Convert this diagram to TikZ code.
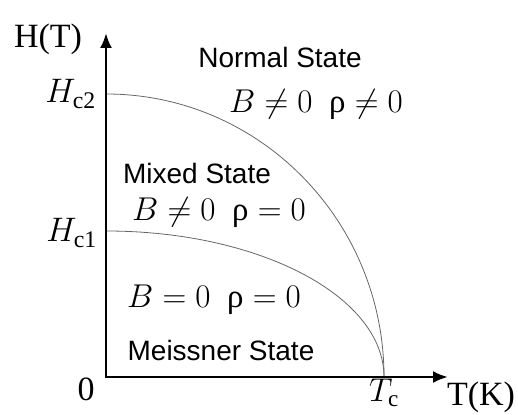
\RequirePackage{fix-cm}
\documentclass[tikz,border=0pt]{standalone}
\usepackage{fontspec}
\setmainfont{Liberation Serif}
\setsansfont{Liberation Sans}
\usetikzlibrary{arrows.meta}
\tikzset{
  state/.style={font=\sffamily\fontsize{28}{33}\selectfont},
  eq/.style={font=\fontsize{33}{38}\selectfont},
  big/.style={font=\fontsize{34}{40}\selectfont},
  axis/.style={line width=2.6pt, <->},
  curve/.style={line width=0.8pt, black!60}
}
\begin{document}
\begin{tikzpicture}[x=1pt, y=1pt, line join=miter, >={Latex[length=15pt,width=12pt]}]
			\useasboundingbox (-106,-37) rectangle (412,377);
			\coordinate (O) at (0,0);
			\coordinate (Y) at (0,344);
			\coordinate (X) at (342,0);
			\coordinate (Hc2) at (0,283);
			\coordinate (Hc1) at (0,146);
			\coordinate (Tc) at (278,0);
			
			\draw[curve] (Hc2) arc[start angle=90, end angle=0, x radius=278, y radius=283];
			\draw[curve] (Hc1) arc[start angle=90, end angle=0, x radius=278, y radius=146];
			\draw[axis] (Y) -- (O) -- (X);
			
			\node[big] (HT) at (-58,338) {H(T)};
			\node[big] (TK) at (375,-20) {T(K)};
			\node[big] (zero) at (-20,-12) {0};
			\node[big, left, inner sep=10pt] (lHc2) at (Hc2) {$H_{\mathrm{c2}}$};
			\node[big, left, inner sep=9pt] (lHc1) at ([yshift=-2pt]Hc1) {$H_{\mathrm{c1}}$};
			\node[eq, below, inner sep=2pt] (lTc) at (Tc) {$T_{\mathrm{c}}$};
			
			\node[state] (normal) at (174,320) {Normal State};
			\node[eq] (eqnormal) at (210,272) {$B \neq 0\enspace\mbox{ρ} \neq 0$};
			\node[state] (mixed) at (91,204) {Mixed State};
			\node[eq] (eqmixed) at (113,164) {$B \neq 0\enspace\mbox{ρ} = 0$};
			\node[eq] (eqmeissner) at (108,77) {$B = 0\enspace\mbox{ρ} = 0$};
			\node[state] (meissner) at (115,27) {Meissner State};
		\end{tikzpicture}
\end{document}
